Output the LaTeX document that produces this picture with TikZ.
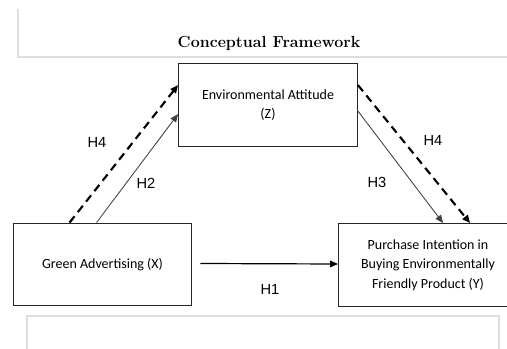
\documentclass[tikz,border=0pt]{standalone}
\usepackage{fontspec}
\newfontfamily\boxfont{Carlito}
\newfontfamily\hfont{Liberation Sans}
\usetikzlibrary{calc, arrows.meta}

\tikzset{
    varbox/.style={draw=black!85, line width=0.9pt, minimum width=134pt,
        minimum height=62pt, align=center, font=\boxfont\fontsize{10.5}{14.5}\selectfont},
    hyp/.style={font=\hfont\fontsize{11}{13}\selectfont},
    direct/.style={draw=black!75, line width=0.65pt, -{Triangle[length=6pt, width=5pt]}},
    indirect/.style={draw=black, line width=1.6pt, dash pattern=on 6pt off 4pt,
        -{Triangle[length=6pt, width=5pt]}},
    frame/.style={draw=black!13, line width=0.8pt}
}

\begin{document}
\begin{tikzpicture}[x=0.75pt, y=-0.75pt]
    \useasboundingbox (0, 0) rectangle (507, 349);
    \clip (0, 0) rectangle (507, 349);

    % page frames
    \draw[frame] (18, 9) -- (18, 57) -- (507, 57);
    \draw[frame] (27, 352) -- (27, 316) -- (499, 316) -- (499, 352);

    \node[font=\bfseries\fontsize{12}{14}\selectfont] (title) at (269, 43)
        {Conceptual Framework};

    \node[varbox] (attitude) at (268, 105)
        {Environmental Attitude\\(Z)};
    \node[varbox] (green) at (102.5, 264.5)
        {Green Advertising (X)};
    \node[varbox] (purchase) at (428, 265)
        {Purchase Intention in\\Buying Environmentally\\Friendly Product (Y)};

    \draw[indirect] ($(green.north west)+(57, 0)$) -- ($(attitude.north west)+(0, 22)$);
    \draw[direct] ($(green.north west)+(84, 0)$) -- ($(attitude.north west)+(0, 51)$);
    \draw[indirect] ($(attitude.north east)+(0, 22)$) -- ($(purchase.north west)+(132, 0)$);
    \draw[direct] ($(attitude.north east)+(0, 48)$) -- ($(purchase.north west)+(105, 0)$);
    \draw[direct, draw=black, line width=0.9pt] ($(green.east)+(8, -1)$) -- ($(purchase.west)+(0, -1)$);

    \node[hyp] (h4a) at (97, 142) {H4};
    \node[hyp] (h2) at (146, 183) {H2};
    \node[hyp] (h4b) at (433, 140) {H4};
    \node[hyp] (h3) at (377, 182) {H3};
    \node[hyp] (h1) at (270, 289) {H1};
\end{tikzpicture}
\end{document}
